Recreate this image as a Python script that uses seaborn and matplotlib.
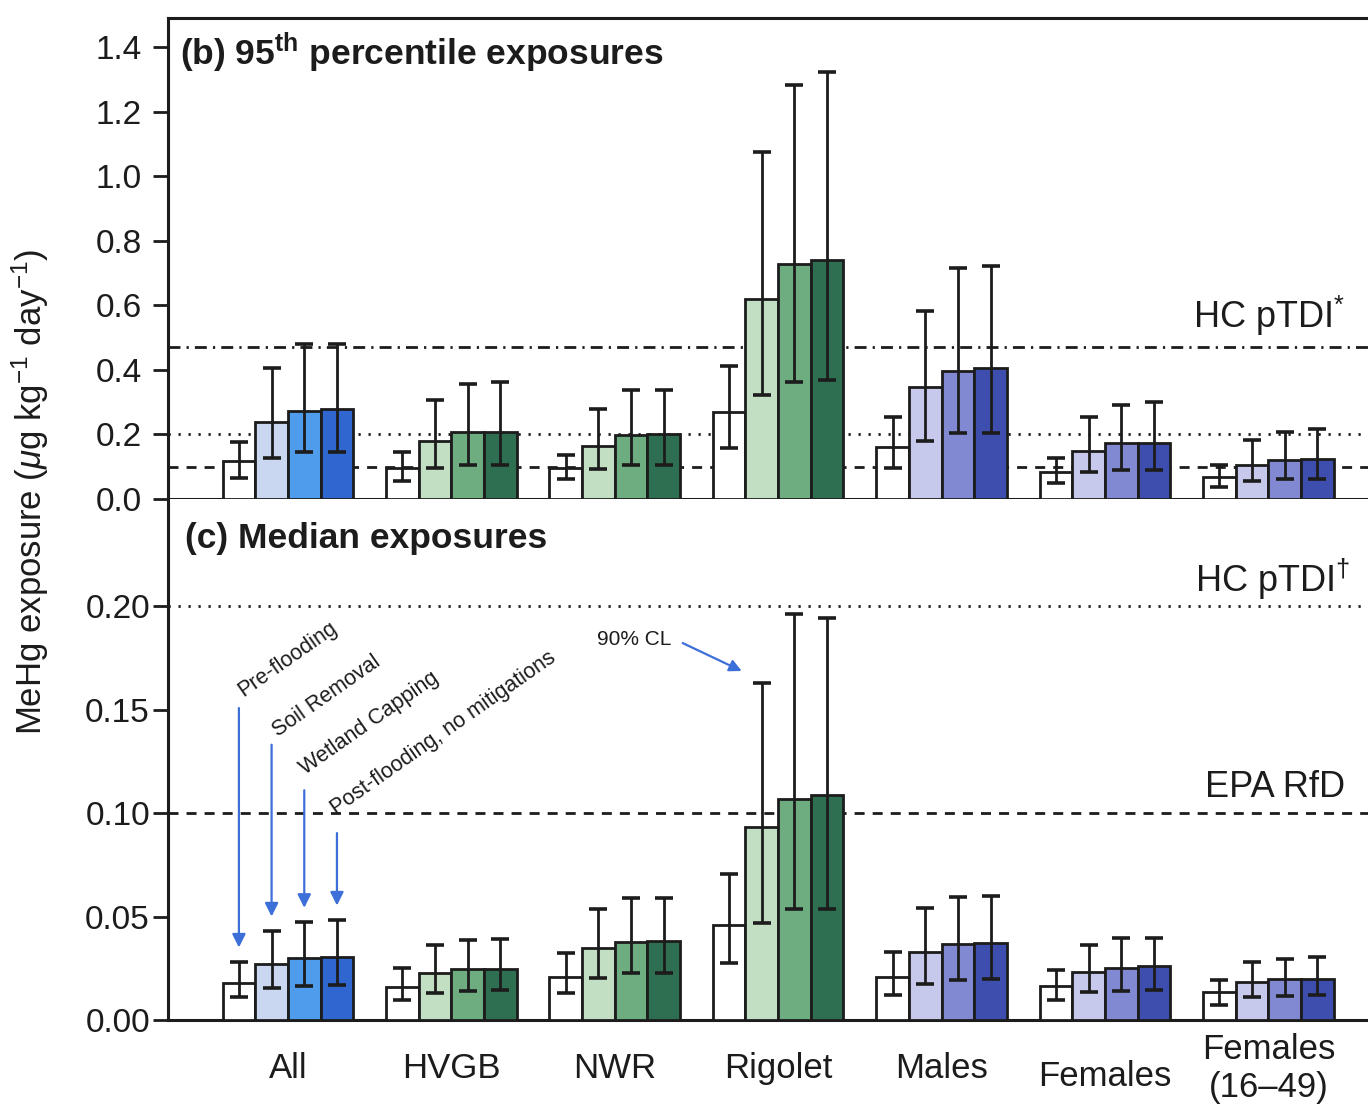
import numpy as np
import pandas as pd
import matplotlib
matplotlib.use("Agg")
import matplotlib.pyplot as plt
import matplotlib.transforms as mtransforms
import seaborn as sns

# ---------------- data ----------------
groups = ["All", "HVGB", "NWR", "Rigolet", "Males", "Females", "Females\n(16\u201349)"]
scenarios = ["Pre-flooding", "Soil Removal", "Wetland Capping", "Post-flooding, no mitigations"]
families = ["blue", "green", "green", "green", "purple", "purple", "purple"]

# (b) 95th percentile exposures  [group][scenario]
p95_val = [[0.119, 0.237, 0.273, 0.279],
           [0.095, 0.180, 0.208, 0.208],
           [0.095, 0.165, 0.198, 0.201],
           [0.271, 0.620, 0.729, 0.739],
           [0.161, 0.346, 0.396, 0.406],
           [0.084, 0.149, 0.172, 0.175],
           [0.068, 0.104, 0.120, 0.125]]
p95_lo = [[0.066, 0.126, 0.145, 0.145],
          [0.057, 0.095, 0.105, 0.105],
          [0.061, 0.093, 0.105, 0.105],
          [0.159, 0.323, 0.362, 0.370],
          [0.097, 0.180, 0.203, 0.205],
          [0.049, 0.084, 0.091, 0.091],
          [0.037, 0.057, 0.062, 0.062]]
p95_hi = [[0.177, 0.405, 0.480, 0.480],
          [0.146, 0.306, 0.355, 0.361],
          [0.136, 0.278, 0.337, 0.337],
          [0.411, 1.074, 1.284, 1.322],
          [0.253, 0.583, 0.715, 0.723],
          [0.127, 0.255, 0.292, 0.302],
          [0.104, 0.182, 0.208, 0.217]]

# (c) median exposures
med_val = [[0.0180, 0.0269, 0.0301, 0.0303],
           [0.0161, 0.0229, 0.0245, 0.0246],
           [0.0209, 0.0346, 0.0378, 0.0383],
           [0.0460, 0.0933, 0.1069, 0.1089],
           [0.0207, 0.0329, 0.0367, 0.0370],
           [0.0162, 0.0231, 0.0253, 0.0259],
           [0.0134, 0.0183, 0.0196, 0.0199]]
med_lo = [[0.0110, 0.0153, 0.0166, 0.0169],
          [0.0097, 0.0129, 0.0142, 0.0145],
          [0.0129, 0.0204, 0.0225, 0.0225],
          [0.0275, 0.0469, 0.0536, 0.0536],
          [0.0123, 0.0175, 0.0191, 0.0199],
          [0.0097, 0.0134, 0.0142, 0.0145],
          [0.0074, 0.0110, 0.0118, 0.0123]]
med_hi = [[0.0280, 0.0430, 0.0472, 0.0483],
          [0.0250, 0.0362, 0.0386, 0.0390],
          [0.0322, 0.0535, 0.0588, 0.0591],
          [0.0704, 0.1630, 0.1960, 0.1944],
          [0.0329, 0.0540, 0.0594, 0.0601],
          [0.0243, 0.0362, 0.0394, 0.0394],
          [0.0194, 0.0280, 0.0297, 0.0302]]

hc_ptdi_general = 0.47
hc_ptdi_women = 0.20
epa_rfd = 0.10

palette = {
    "blue":   ["#ffffff", "#c9d7f1", "#4f9bec", "#2f66d0"],
    "green":  ["#ffffff", "#c2dfc4", "#6dad80", "#2f6f51"],
    "purple": ["#ffffff", "#c7c9ec", "#8189d3", "#3e4eae"],
}

# ---------------- style ----------------
sns.set_style("ticks")
plt.rcParams["font.family"] = ["Liberation Sans", "DejaVu Sans"]
plt.rcParams["mathtext.fontset"] = "custom"
plt.rcParams["mathtext.rm"] = "Liberation Sans"
plt.rcParams["mathtext.it"] = "Liberation Sans:italic"
plt.rcParams["mathtext.bf"] = "Liberation Sans:bold"
plt.rcParams["mathtext.fallback"] = "stixsans"

fig = plt.figure(figsize=(13.68, 11.14), dpi=100)
W, H = 1368, 1114
left = 168 / W
ax_top = fig.add_axes([left, 1 - 499 / H, 1.0 - left, (499 - 18) / H])
ax_bot = fig.add_axes([left, 1 - 1020 / H, 1.0 - left, (1020 - 499) / H])

XLIM = (-0.734, 6.61)
ink = "#1c1c1c"


def make_df(vals):
    rows = []
    for gi, g in enumerate(groups):
        for si, s in enumerate(scenarios):
            rows.append({"group": g, "scenario": s, "value": vals[gi][si]})
    return pd.DataFrame(rows)


def draw_panel(ax, vals, lo, hi, ypad):
    df = make_df(vals)
    sns.barplot(data=df, x="group", y="value", hue="scenario", order=groups,
                hue_order=scenarios, errorbar=None, ax=ax, legend=False,
                edgecolor=ink, linewidth=2.0, palette=["#ffffff"] * 4,
                saturation=1, zorder=3)
    bar_conts = list(ax.containers)
    for si, cont in enumerate(bar_conts):
        for gi, bar in enumerate(cont):
            bar.set_facecolor(palette[families[gi]][si])
            bar.set_zorder(3)
            xc = bar.get_x() + bar.get_width() / 2
            v = vals[gi][si]
            ax.errorbar(xc, v, yerr=[[v - lo[gi][si]], [hi[gi][si] - v]],
                        fmt="none", ecolor=ink, elinewidth=2.0, capsize=6.5,
                        capthick=2.6, zorder=4)
    ax.set_xlim(*XLIM)
    ax.set_xlabel("")
    ax.set_ylabel("")
    ax.spines["right"].set_visible(False)
    for sp in ["left", "bottom", "top"]:
        ax.spines[sp].set_linewidth(2.2)
        ax.spines[sp].set_color(ink)
    ax.tick_params(axis="y", direction="out", length=11, width=2, labelsize=24,
                   pad=ypad, colors=ink)
    return bar_conts


# ---- top panel ----
draw_panel(ax_top, p95_val, p95_lo, p95_hi, ypad=8)
ax_top.set_ylim(0, 1.49)
ax_top.set_yticks(np.arange(0, 1.41, 0.2))
ax_top.set_yticklabels([f"{t:.1f}" for t in np.arange(0, 1.41, 0.2)])
ax_top.set_xticks([])
ax_top.axhline(hc_ptdi_general, color=ink, lw=2, ls=(0, (4.3, 2.2, 0.8, 2.2)), zorder=2)
ax_top.axhline(hc_ptdi_women, color=ink, lw=2, ls=(0, (0.8, 2.8)), zorder=2)
ax_top.axhline(epa_rfd, color=ink, lw=2, ls=(0, (3.6, 2.9)), zorder=2)
ax_top.text(6.47, 0.529, r"HC pTDI$^{*}$", ha="right", va="baseline", fontsize=26, color=ink)
ax_top.text(0.01, 0.902, r"(b) 95$^{\mathbf{th}}$ percentile exposures",
            transform=ax_top.transAxes, fontsize=25.5, fontweight="bold",
            ha="left", va="baseline", color=ink)

# ---- bottom panel ----
bot_conts = draw_panel(ax_bot, med_val, med_lo, med_hi, ypad=2)
ax_bot.spines["top"].set_visible(False)
ax_bot.set_ylim(0, 0.2517)
yt = np.arange(0, 0.201, 0.05)
ax_bot.set_yticks(yt)
ax_bot.set_yticklabels([f"{t:.2f}" for t in yt])
ax_bot.set_xticks(range(len(groups)))
ax_bot.set_xticklabels(groups)
ax_bot.tick_params(axis="x", length=0, pad=35, labelsize=25, colors=ink)
for lbl in ax_bot.get_xticklabels():
    lbl.set_va("center")
    if lbl.get_text() == "Females":
        lbl.set_transform(lbl.get_transform() +
                          mtransforms.ScaledTranslation(0, -0.08, fig.dpi_scale_trans))
ax_bot.axhline(hc_ptdi_women, color=ink, lw=2, ls=(0, (0.8, 2.8)), zorder=2)
ax_bot.axhline(epa_rfd, color=ink, lw=2, ls=(0, (3.6, 2.9)), zorder=2)
ax_bot.text(6.5, 0.207, "HC pTDI$^{\u2020}$", ha="right", va="baseline", fontsize=26, color=ink)
ax_bot.text(6.47, 0.1077, "EPA RfD", ha="right", va="baseline", fontsize=26, color=ink)
ax_bot.text(0.014, 0.906, "(c) Median exposures", transform=ax_bot.transAxes,
            fontsize=25.5, fontweight="bold", ha="left", va="baseline", color=ink)

# scenario annotations with arrows on the "All" group
arrow_blue = "#3d6fd8"
text_pos = [(-0.275, 0.156), (-0.061, 0.1367), (0.104, 0.1184), (0.294, 0.099)]
arrow_start = [0.1507, 0.133, 0.111, 0.0903]
for si, cont in enumerate(bot_conts):
    bar = cont[0]
    xc = bar.get_x() + bar.get_width() / 2
    tip = med_hi[0][si] + 0.007
    ax_bot.annotate("", xy=(xc, tip), xytext=(xc, arrow_start[si]),
                    arrowprops=dict(arrowstyle="-|>", color=arrow_blue, lw=1.6,
                                    mutation_scale=20, shrinkA=0, shrinkB=0),
                    zorder=5)
    ax_bot.text(text_pos[si][0], text_pos[si][1], scenarios[si], rotation=35,
                rotation_mode="anchor", ha="left", va="baseline", fontsize=15.5,
                color=ink, zorder=5)

ax_bot.text(1.89, 0.1836, "90% CL", ha="left", va="center", fontsize=15, color=ink)
ax_bot.annotate("", xy=(2.777, 0.1686), xytext=(2.416, 0.1821),
                arrowprops=dict(arrowstyle="-|>", color=arrow_blue, lw=1.6,
                                mutation_scale=18, shrinkA=0, shrinkB=0))

fig.text(30 / W, 1 - 492 / H, r"MeHg exposure ($\mu$g kg$^{-1}$ day$^{-1}$)",
         rotation=90, ha="center", va="center", fontsize=25, color=ink)

fig.savefig("out.png", dpi=100)
